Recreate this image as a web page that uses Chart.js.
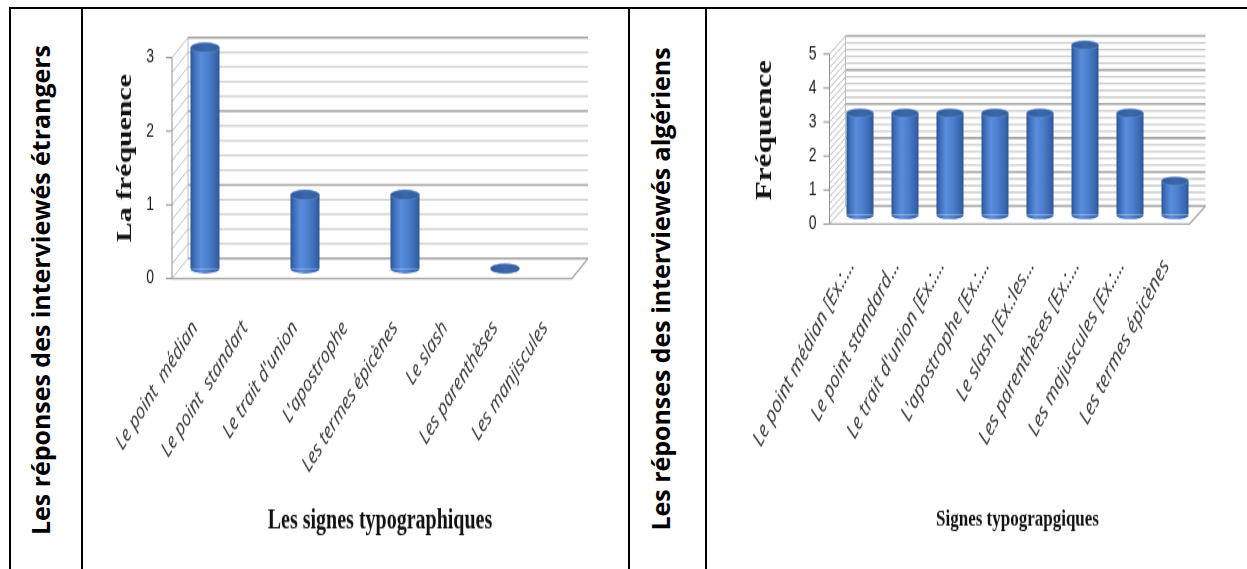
<!DOCTYPE html>
<html><head><meta charset="utf-8">
<script src="https://cdn.jsdelivr.net/npm/chart.js@4.4.0/dist/chart.umd.min.js"></script>
<style>
html,body{margin:0;padding:0;background:#fff;}
body{width:1247px;height:569px;position:relative;overflow:hidden;}
.line{position:absolute;background:#000;}
.vt{position:absolute;white-space:nowrap;font-family:"Open Sans",sans-serif;font-weight:700;color:#000;line-height:1;font-size:22px;transform:translate(-50%,-50%) rotate(-90deg);}
canvas{position:absolute;left:0;top:0;}
</style></head><body>
<div class="line" style="left:9px;top:7px;width:1238px;height:2px"></div>
<div class="line" style="left:9px;top:7px;width:2px;height:562px"></div>
<div class="line" style="left:81px;top:7px;width:2px;height:562px"></div>
<div class="line" style="left:628px;top:7px;width:2px;height:562px"></div>
<div class="line" style="left:705px;top:7px;width:2px;height:562px"></div>
<div class="vt" id="vt1" style="left:40px;top:290px">Les réponses des interviewés étrangers</div>
<div class="vt" id="vt2" style="left:660px;top:289px">Les réponses des interviewés algériens</div>
<canvas id="c1" width="1247" height="420" style="width:1247px;height:569px"></canvas>
<canvas id="c2" width="1247" height="420" style="width:1247px;height:569px"></canvas>
<script>
// ---------- data ----------
const categories1 = ["Le point  médian", "Le point  standart", "Le trait d'union", "L'apostrophe", "Les termes épicènes", "Le slash", "Les parenthèses", "Les manjiscules"];
const values1 = [3, null, 1, null, 1, null, 0, null];
const yMax1 = 3;
const categories2 = ["Le point médian [Ex.:…", "Le point standard…", "Le trait d'union [Ex.:…", "L'apostrophe [Ex.:…", "Le slash [Ex.:les…", "Les parenthèses [Ex.:…", "Les majuscules [Ex.:…", "Les termes épicènes"];
const values2 = [3, 3, 3, 3, 3, 5, 3, 1];
const yMax2 = 5;
const yTitle1 = "La fréquence", xTitle1 = "Les signes typographiques";
const yTitle2 = "Fréquence", xTitle2 = "Signes typograpgiques";

// ---------- fit vertical cell texts ----------
(function(){
  const a = document.getElementById('vt1'), b = document.getElementById('vt2');
  const w = a.offsetWidth;
  const fs = 22 * 490 / w;
  a.style.fontSize = fs + 'px'; b.style.fontSize = fs + 'px';
})();

const K = 569 / 420; // vertical stretch of the canvases

function makeBodyGradient(ctx, x, w) {
  const g = ctx.createLinearGradient(x - w / 2, 0, x + w / 2, 0);
  g.addColorStop(0, '#2a5392');
  g.addColorStop(0.12, '#3d6dba');
  g.addColorStop(0.35, '#5a8ddb');
  g.addColorStop(0.6, '#4c7fcd');
  g.addColorStop(0.88, '#3966b0');
  g.addColorStop(1, '#2b5594');
  return g;
}
function bodyFill(c) {
  const chart = c.chart, xs = chart.scales.x;
  if (!xs || !chart.chartArea || !xs.ticks || !xs.ticks.length) return '#4a7cc9';
  const ds = chart.data.datasets[0];
  const x = xs.getPixelForValue(c.dataIndex);
  const w = xs.width / chart.data.labels.length * ds.barPercentage;
  return makeBodyGradient(chart.ctx, x, w);
}

const cyl3d = {
  id: 'cyl3d',
  beforeDatasetsDraw(chart, args, o) {
    const ctx = chart.ctx, ys = chart.scales.y;
    const L = chart.chartArea.left, R = chart.chartArea.right;
    const dx = o.dx, dy = o.dy;
    const yB = v => ys.getPixelForValue(v) - dy;
    const yF = v => ys.getPixelForValue(v) + dy;
    const min = ys.min, max = ys.max;
    ctx.save();
    const n = Math.round((max - min) / o.minor);
    for (let i = 0; i <= n; i++) {
      const v = min + i * o.minor;
      const major = Math.abs(v - Math.round(v)) < 1e-6;
      ctx.strokeStyle = major ? '#a3a3a3' : '#cbcbcb';
      ctx.lineWidth = major ? 1.6 : 1.3;
      ctx.beginPath(); ctx.moveTo(L + dx, yB(v)); ctx.lineTo(R + dx, yB(v)); ctx.stroke();
      ctx.strokeStyle = '#b5b5b5'; ctx.lineWidth = 0.9;
      ctx.beginPath(); ctx.moveTo(L - dx, yF(v)); ctx.lineTo(L + dx, yB(v)); ctx.stroke();
    }
    ctx.strokeStyle = '#bdbdbd'; ctx.lineWidth = 1;
    ctx.beginPath(); ctx.moveTo(L + dx, yB(min)); ctx.lineTo(L + dx, yB(max)); ctx.stroke();
    ctx.strokeStyle = '#a8a8a8'; ctx.lineWidth = 1.3;
    ctx.beginPath(); ctx.moveTo(L - dx, yF(min)); ctx.lineTo(R - dx, yF(min)); ctx.lineTo(R + dx, yB(min)); ctx.stroke();
    ctx.strokeStyle = '#8f8f8f'; ctx.lineWidth = 1;
    ctx.beginPath(); ctx.moveTo(L - dx, yF(min)); ctx.lineTo(L - dx, yF(max)); ctx.stroke();
    ys.ticks.forEach(t => {
      ctx.beginPath(); ctx.moveTo(L - dx - o.tick, yF(t.value)); ctx.lineTo(L - dx, yF(t.value)); ctx.stroke();
    });
    ctx.restore();
  },
  afterDatasetsDraw(chart, args, o) {
    const ctx = chart.ctx;
    const meta = chart.getDatasetMeta(0);
    const vals = chart.data.datasets[0].data;
    ctx.save();
    meta.data.forEach((el, i) => {
      if (vals[i] === null || vals[i] === undefined) return;
      const x = el.x, top = el.y, base = el.base, w = el.width, rx = w / 2, ry = o.ry;
      ctx.fillStyle = makeBodyGradient(ctx, x, w);
      ctx.beginPath(); ctx.ellipse(x, base, rx, ry, 0, 0, Math.PI); ctx.fill();
      const g = ctx.createLinearGradient(x - rx, 0, x + rx, 0);
      g.addColorStop(0, '#2f5a9a'); g.addColorStop(0.5, '#3b67ab'); g.addColorStop(1, '#34609f');
      ctx.fillStyle = g;
      ctx.beginPath(); ctx.ellipse(x, top, rx, ry, 0, 0, Math.PI * 2); ctx.fill();
      ctx.strokeStyle = 'rgba(120,160,220,0.5)'; ctx.lineWidth = 0.7; ctx.stroke();
    });
    ctx.restore();
  }
};

function buildChart(id, cfg) {
  return new Chart(document.getElementById(id), {
    type: 'bar',
    data: { labels: cfg.labels, datasets: [{ data: cfg.values, backgroundColor: bodyFill, borderWidth: 0, categoryPercentage: 1, barPercentage: cfg.barPct }] },
    options: {
      responsive: false, animation: false, devicePixelRatio: 1, events: [],
      layout: { padding: { left: cfg.padLeft, top: cfg.top, right: 1247 - cfg.right, bottom: 0 } },
      plugins: { legend: { display: false }, tooltip: { enabled: false },
        cyl3d: { dx: cfg.dx, dy: cfg.dy, minor: 0.2, ry: cfg.ry, tick: 6 } },
      scales: {
        x: {
          grid: { display: false, drawTicks: false }, border: { display: false },
          ticks: { autoSkip: false, maxRotation: cfg.rot, minRotation: cfg.rot, padding: cfg.xPad, labelOffset: cfg.xLo,
                   color: '#333333', font: { family: "'Open Sans', sans-serif", style: 'italic', size: cfg.xFs } },
          title: { display: true, text: cfg.xTitle, color: '#111',
                   font: { family: "'Liberation Serif', serif", weight: 'bold', size: cfg.xtFs }, padding: { top: 0, bottom: cfg.xtPb } },
          afterFit: s => { s.height = 420 - cfg.bottom; }
        },
        y: {
          min: 0, max: cfg.max,
          ticks: { stepSize: 1, padding: cfg.yPad, labelOffset: cfg.dy, color: '#1a1a1a',
                   font: { family: "'Liberation Sans', sans-serif", size: 14 } },
          grid: { display: false, drawTicks: false }, border: { display: false },
          title: { display: true, text: cfg.yTitle, color: '#111',
                   font: { family: "'Liberation Serif', serif", weight: 'bold', size: cfg.ytFs }, padding: { top: cfg.ytPt, bottom: 0 } },
          afterFit: s => { s.width = 110; }
        }
      }
    },
    plugins: [cyl3d]
  });
}

buildChart('c1', {
  labels: categories1, values: values1, max: yMax1, barPct: 0.58,
  padLeft: 70, right: 580, top: 47.5 / K, bottom: 268.5 / K,
  dx: 8, dy: 10 / K, ry: 5 / K,
  rot: 50, xPad: 35, xLo: -10, xFs: 16,
  xTitle: xTitle1, xtFs: 20, xtPb: 22.7,
  yTitle: yTitle1, ytFs: 22, ytPt: 41.8, yPad: 26
});
buildChart('c2', {
  labels: categories2, values: values2, max: yMax2, barPct: 0.6,
  padLeft: 727.5, right: 1197.5, top: 45 / K, bottom: 215 / K,
  dx: 8, dy: 9 / K, ry: 4.3 / K,
  rot: 55, xPad: 29, xLo: -9, xFs: 16.5,
  xTitle: xTitle2, xtFs: 17, xtPb: 26,
  yTitle: yTitle2, ytFs: 23, ytPt: 23.7, yPad: 21
});
</script>
</body></html>
